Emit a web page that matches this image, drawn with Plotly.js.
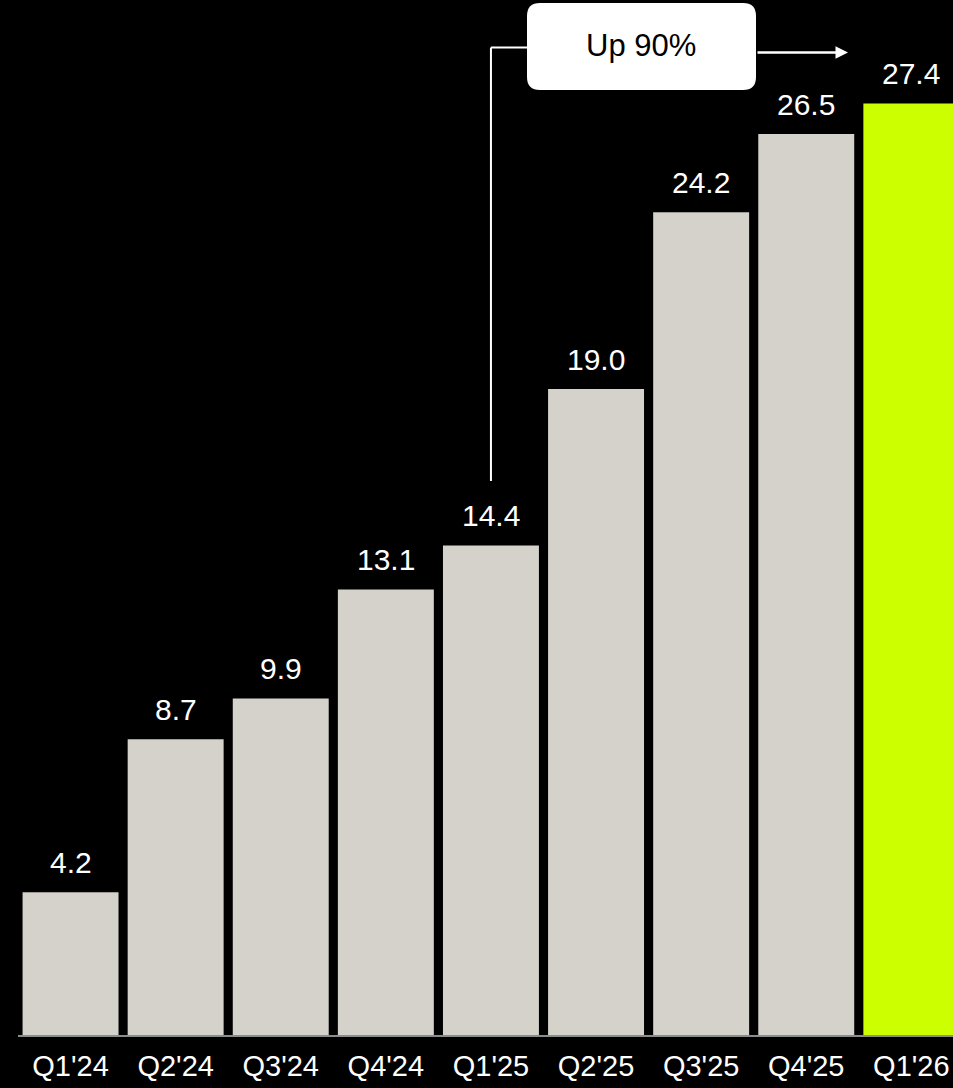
<!DOCTYPE html>
<html>
<head>
<meta charset="utf-8">
<script src="https://cdn.plot.ly/plotly-3.0.1.min.js"></script>
<style>
html,body{margin:0;padding:0;background:#000;overflow:hidden;}
#chart{width:953px;height:1088px;}
</style>
</head>
<body>
<div id="chart"></div>
<script>
// ---- data ----
var quarters = ["Q1'24","Q2'24","Q3'24","Q4'24","Q1'25","Q2'25","Q3'25","Q4'25","Q1'26"];
var values = [4.2, 8.7, 9.9, 13.1, 14.4, 19.0, 24.2, 26.5, 27.4];
var valueLabels = ["4.2","8.7","9.9","13.1","14.4","19.0","24.2","26.5","27.4"];
var calloutText = "Up 90%";
var calloutFrom = "Q1'25";

// ---- styling ----
var GREY = '#d5d1cb', LIME = '#ccff00';
var colors = quarters.map(function(q, i){ return i === quarters.length - 1 ? LIME : GREY; });
var FONT = '"Liberation Sans", Arial, Helvetica, sans-serif';

var W = 953, H = 1088, ML = 18, MT = 0, MB = 53;
var plotW = W - ML, plotH = H - MT - MB;
var pitch = 105.1, pxPerUnit = 34;
var xr = [-0.5, -0.5 + plotW / pitch];
var yr = [0, plotH / pxPerUnit];
function px2x(px){ return xr[0] + (px - ML) / pitch; }
function px2y(py){ return (MT + plotH - py) / pxPerUnit; }

var trace = {
  type: 'bar',
  x: quarters,
  y: values,
  marker: {color: colors, line: {width: 0}},
  hoverinfo: 'skip',
  cliponaxis: true
};

var annotations = quarters.map(function(q, i){
  return {
    x: q, y: values[i], xref: 'x', yref: 'y',
    text: valueLabels[i], showarrow: false,
    xanchor: 'center', yanchor: 'middle', yshift: 30,
    font: {family: FONT, size: 30, color: '#ffffff'}
  };
});

// callout box geometry (pixels)
var bx0 = 527, bx1 = 756, by0 = 3, by1 = 90, r = 13;
function P(x, y){ return px2x(x) + ',' + px2y(y); }
var boxPath = 'M' + P(bx0 + r, by0) + ' L' + P(bx1 - r, by0) + ' Q' + P(bx1, by0) + ' ' + P(bx1, by0 + r) +
  ' L' + P(bx1, by1 - r) + ' Q' + P(bx1, by1) + ' ' + P(bx1 - r, by1) +
  ' L' + P(bx0 + r, by1) + ' Q' + P(bx0, by1) + ' ' + P(bx0, by1 - r) +
  ' L' + P(bx0, by0 + r) + ' Q' + P(bx0, by0) + ' ' + P(bx0 + r, by0) + ' Z';

var fromIdx = quarters.indexOf(calloutFrom);
var shapes = [
  {type: 'line', xref: 'x', yref: 'y', x0: fromIdx, x1: fromIdx, y0: px2y(481), y1: px2y(47.5),
   line: {color: '#ffffff', width: 2}},
  {type: 'line', xref: 'x', yref: 'y', x0: fromIdx, x1: px2x(bx0), y0: px2y(47.5), y1: px2y(47.5),
   line: {color: '#ffffff', width: 2}},
  {type: 'path', xref: 'x', yref: 'y', path: boxPath, fillcolor: '#ffffff', line: {width: 0}, layer: 'above'}
];

annotations.push({
  x: px2x(641), y: px2y(45), xref: 'x', yref: 'y',
  text: calloutText, showarrow: false, xanchor: 'center', yanchor: 'middle',
  font: {family: FONT, size: 31, color: '#000000'}
});
// arrow to the right
annotations.push({
  x: px2x(848), y: px2y(52.5), ax: px2x(bx1), ay: px2y(52.5),
  xref: 'x', yref: 'y', axref: 'x', ayref: 'y',
  text: '', showarrow: true, arrowhead: 2, arrowsize: 1, arrowwidth: 2.5, arrowcolor: '#ffffff', standoff: 0
});

var layout = {
  width: W, height: H,
  margin: {l: ML, r: 0, t: MT, b: MB, pad: 0},
  paper_bgcolor: '#000000', plot_bgcolor: '#000000',
  bargap: 0.087,
  showlegend: false,
  xaxis: {
    type: 'category', range: xr, showgrid: false, zeroline: false,
    showline: true, linecolor: '#8c8c8c', linewidth: 2,
    ticks: '', ticklabelstandoff: 4,
    tickfont: {family: FONT, size: 29, color: '#ffffff'},
    fixedrange: true
  },
  yaxis: {
    range: yr, showgrid: false, zeroline: false, showline: false,
    showticklabels: false, ticks: '', fixedrange: true
  },
  shapes: shapes,
  annotations: annotations,
  font: {family: FONT}
};

Plotly.newPlot('chart', [trace], layout, {displayModeBar: false, staticPlot: true});
</script>
</body>
</html>
